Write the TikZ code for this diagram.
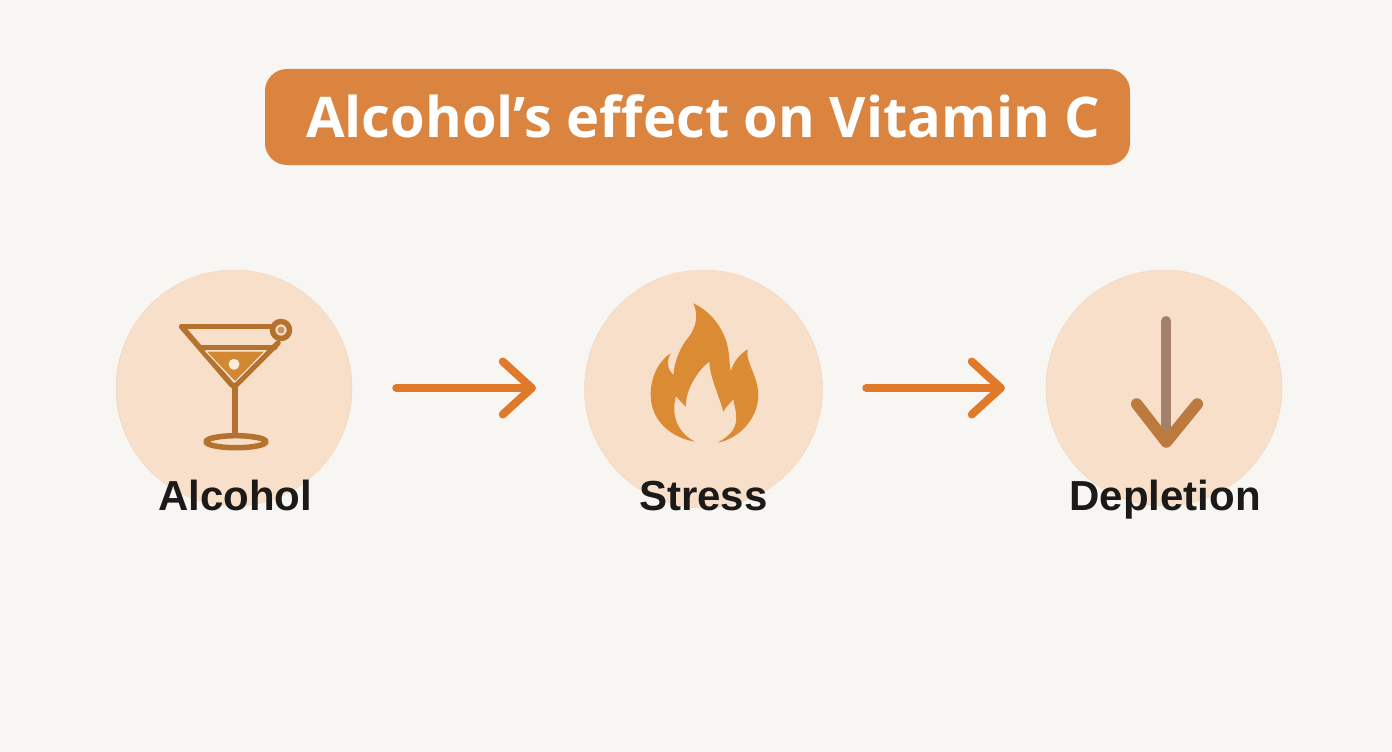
\documentclass[tikz,border=0pt]{standalone}
\usepackage{fontspec}
\setmainfont{Open Sans}
\newfontfamily\labelfont{Liberation Sans}
\pgfdeclarearrow{
  name=Chevron,
  setup code={\pgfarrowssettipend{5pt}\pgfarrowssetlineend{0pt}},
  drawing code={
    \pgfsetdash{}{0pt}\pgfsetroundjoin\pgfsetroundcap
    \pgfpathmoveto{\pgfpoint{-29pt}{26.5pt}}
    \pgfpathlineto{\pgfpointorigin}
    \pgfpathlineto{\pgfpoint{-29pt}{-26.5pt}}
    \pgfusepathqstroke
  }
}
\begin{document}
\begin{tikzpicture}  [
    x=1pt, y=-1pt,
    bubble/.style={circle, draw=bubbleedge, line width=0.5, fill=bubblefill, minimum size=236, inner sep=0},
    caption/.style={inner sep=0, anchor=base, text=captiontext, font=\labelfont\bfseries\fontsize{42}{46}\selectfont},
    flow/.style={draw=floworange, line width=8, line cap=round, -Chevron},
    glass/.style={draw=glassbrown, line width=5.5, line cap=round, line join=round},
  ]

\definecolor{backdrop}{RGB}{248,246,243}
\definecolor{titlefill}{RGB}{219,132,64}
\definecolor{bubblefill}{RGB}{247,223,202}
\definecolor{bubbleedge}{RGB}{243,215,190}
\definecolor{captiontext}{RGB}{28,26,25}
\definecolor{floworange}{RGB}{224,122,42}
\definecolor{glassbrown}{RGB}{181,114,47}
\definecolor{liquid}{RGB}{210,135,50}
\definecolor{cream}{RGB}{250,236,215}
\definecolor{flamefill}{RGB}{219,139,51}
\definecolor{shaft}{RGB}{163,128,106}
\definecolor{headbrown}{RGB}{188,122,63}

\fill [backdrop] (0,0) rectangle (1392,752);
\useasboundingbox (0,0) rectangle (1392,752);

\fill [titlefill, rounded corners=22] (265,69) rectangle (1130,165);
\node (title) [anchor=base, inner sep=0, text=white, font=\bfseries\fontsize{56}{64}\selectfont] at (703.5,137) {Alcohol’s effect on Vitamin C};

\node (alcohol) [bubble] at (234,388) {};
\node (stress) [bubble, minimum size=238] at (703.5,389) {};
\node (depletion) [bubble] at (1164,388) {};

\node (alcohollabel) [caption] at (235,510) {Alcohol};
\node (stresslabel) [caption] at (703.5,510) {Stress};
\node (depletionlabel) [caption] at (1165,510) {Depletion};

\draw [flow, shorten <=44, shorten >=47.5] (alcohol.east) -- (alcohol.east -| stress.west);
\draw [flow, shorten <=43.5, shorten >=40] (stress.east |- depletion.west) -- (depletion.west);

% glass
\draw [glass] (181.7,326.7) -- (272,326.7);
\draw [glass] (181.7,326.7) -- (231,384) -- (234,386.5) -- (237,384) -- (278,343);
\draw [glass] (200,347.3) -- (275,347.3);
\filldraw [fill=liquid, draw=cream, line width=1] (205.5,351) -- (265.5,351) -- (235,382) -- cycle;
\fill [cream] (234,364.3) circle (5.5);
\draw [glass] (235,387) -- (235,435);
\draw [glass, fill=bubblefill] (236,441.7) ellipse (30 and 6);
\draw [glass, line width=3] (207,440) -- (235,435) -- (265,440);
\draw [glass, fill=bubblefill] (281,330) circle (8.5);
\fill [glassbrown!70!bubblefill] (281,330) circle (3.5);

% flame
\fill [flamefill] (693.3,303.3) .. controls (712,312) and (725,330) .. (728.3,350)
  .. controls (729.5,358) and (729.5,365) .. (730.7,371.7)
  .. controls (733,362) and (740,354) .. (747.7,349.3)
  .. controls (745,362) and (758,375) .. (758.3,395)
  .. controls (758,420) and (738,439) .. (717.3,442.7)
  .. controls (730,436) and (738,428) .. (736,414)
  .. controls (735.5,408) and (734,404) .. (733.3,399.3)
  .. controls (730,403) and (726,407) .. (723.3,411.7)
  .. controls (719,395) and (710,378) .. (709.3,361.7)
  .. controls (698,370) and (685,390) .. (686,406.7)
  .. controls (682,403) and (679,400) .. (676,396)
  .. controls (670,418) and (680,434) .. (695,441.7)
  .. controls (668,437) and (650,418) .. (650.7,393.3)
  .. controls (651,375) and (660,360) .. (670.7,353.3)
  .. controls (666,362) and (668,370) .. (673.3,375)
  .. controls (675,358) and (682,345) .. (688,338)
  .. controls (696,328) and (699,315) .. (693.3,303.3) -- cycle;

% down arrow
\draw [shaft, line width=10, line cap=round] (1166.3,321) -- (1166.3,436);
\draw [headbrown, line width=11.5, line cap=round, line join=round] (1136.7,404) -- (1166.3,442) -- (1197.3,404);
\end{tikzpicture}
\end{document}
